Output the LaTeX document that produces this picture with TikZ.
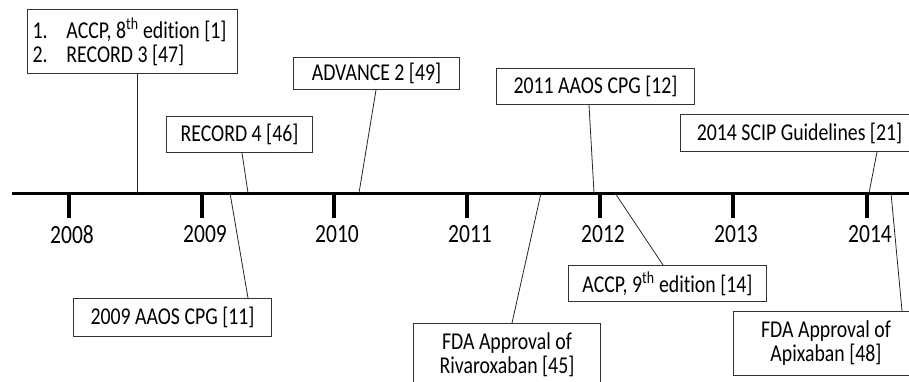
\documentclass[tikz,border=0pt]{standalone}
\usepackage{graphicx}
\usepackage{fontspec}
\setmainfont{Carlito}[Ligatures=NoCommon]
\newcommand{\vs}[1]{\scalebox{1}[1.22]{#1}}
\lineskiplimit=-30pt
\begin{document}
\begin{tikzpicture}[x=1pt,y=-1pt,
  box/.style={draw=black!80, line width=1pt, fill=white, inner sep=0pt, anchor=north west,
    font=\fontsize{19.8}{24}\selectfont, align=center},
  conn/.style={draw=black!85, line width=0.8pt},
  axisline/.style={line width=3pt, black},
  ticksty/.style={line width=3.2pt, black},
  yearlab/.style={font=\fontsize{21.5}{26}\selectfont, inner sep=0pt}]
\useasboundingbox (0,0) rectangle (909,382);
\clip (0,0) rectangle (909,382);

% axis
\coordinate (axL) at (12,193);
\coordinate (axR) at (912,193);
\draw[axisline] (axL) -- (axR);

% ticks and years
\foreach \x/\yr in {69/2008,202/2009,334/2010,467/2011,600/2012,733/2013,867/2014}{
  \coordinate (t\yr) at (\x,193);
  \coordinate (tb\yr) at (\x,218);
  \draw[ticksty] (t\yr) -- (tb\yr);
  \node[yearlab] (y\yr) at (\x+3,234.5) {\vs{\yr}};
}

% axis connection points
\coordinate (a1) at (137,193);
\coordinate (a2) at (248,193);
\coordinate (a3) at (359,193);
\coordinate (a4) at (594,193);
\coordinate (a5) at (869,193);
\coordinate (a6) at (230,193);
\coordinate (a7) at (541,193);
\coordinate (a8) at (615,193);
\coordinate (a9) at (891,193);

% boxes above
\node[box, minimum width=210pt, minimum height=64pt, text width=200pt, inner xsep=5pt, align=flush left]
  (b1) at (27,9) {\vs{\makebox[34pt][l]{1.}ACCP, 8\textsuperscript{th} edition [1]}\\
  \vs{\makebox[34pt][l]{2.}RECORD 3 [47]}};
\node[box, minimum width=146pt, minimum height=36pt] (b2) at (166,116) {\vs{RECORD 4 [46]}};
\node[box, minimum width=166pt, minimum height=32pt] (b3) at (293,57) {\vs{ADVANCE 2 [49]}};
\node[box, minimum width=198pt, minimum height=36pt] (b4) at (496,68) {\vs{2011 AAOS CPG [12]}};
\node[box, minimum width=238pt, minimum height=37pt] (b5) at (680,114) {\vs{2014 SCIP Guidelines [21]}};

% boxes below
\node[box, minimum width=198pt, minimum height=38pt] (b6) at (73,298) {\vs{2009 AAOS CPG [11]}};
\node[box, minimum width=187pt, minimum height=63pt] (b7) at (413,323) {\vs{FDA Approval of}\\\vs{Rivaroxaban [45]}};
\node[box, minimum width=198pt, minimum height=36pt] (b8) at (568,265) {\vs{ACCP, 9\textsuperscript{th} edition [14]}};
\node[box, minimum width=185pt, minimum height=64pt] (b9) at (733,311) {\vs{FDA Approval of}\\\vs{Apixaban [48]}};

% connectors
\draw[conn] ([xshift=110pt]b1.south west) -- (a1);
\draw[conn] ([xshift=76pt]b2.south west) -- (a2);
\draw[conn] ([xshift=83pt]b3.south west) -- (a3);
\draw[conn] ([xshift=93pt]b4.south west) -- (a4);
\draw[conn] ([xshift=197pt]b5.south west) -- (a5);
\draw[conn] ([xshift=175pt]b6.north west) -- (a6);
\draw[conn] ([xshift=99pt]b7.north west) -- (a7);
\draw[conn] ([xshift=95pt]b8.north west) -- (a8);
\draw[conn] ([xshift=169pt]b9.north west) -- (a9);
\end{tikzpicture}
\end{document}
